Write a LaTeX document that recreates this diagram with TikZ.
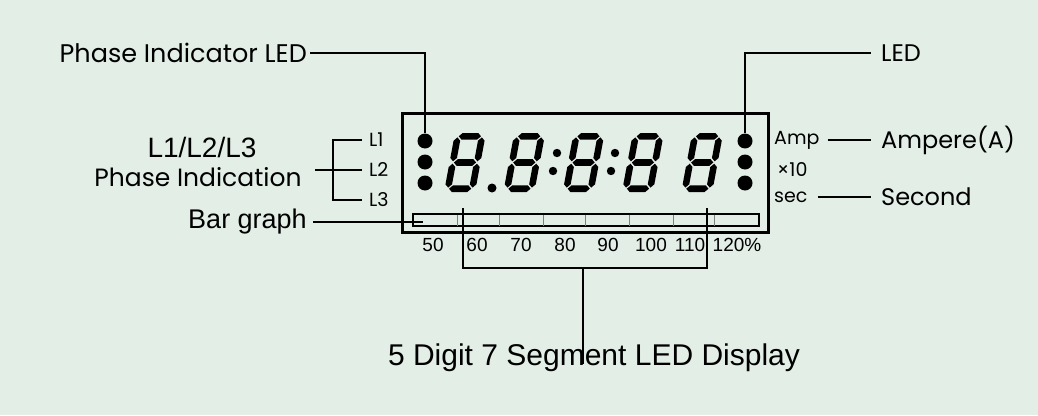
\documentclass[tikz,border=0pt]{standalone}
\usepackage{fontspec}
\setmainfont{Poppins}
\newfontfamily\helv{Liberation Sans}
\usetikzlibrary{positioning}
\definecolor{mint}{RGB}{226,238,230}

% one segment of a digit, lying or standing
\newcommand{\segh}[3]{\fill (#1,#3) -- (#1+3.3,#3-3.3) -- (#2-3.3,#3-3.3) -- (#2,#3) -- (#2-3.3,#3+3.3) -- (#1+3.3,#3+3.3) -- cycle;}
\newcommand{\segv}[3]{\fill (#1,#2) -- (#1+3.3,#2+3.3) -- (#1+3.3,#3-3.3) -- (#1,#3) -- (#1-3.3,#3-3.3) -- (#1-3.3,#2+3.3) -- cycle;}
\newcommand{\segdigit}[2]{%
  \begin{scope}[shift={(#1+11,#2)}, xslant=0.186]
    \segh{4.4}{26.6}{3.3} \segh{4.4}{26.6}{29.5} \segh{4.4}{26.6}{55.7}
    \segv{3.3}{4.4}{28.3} \segv{3.3}{30.7}{54.6}
    \segv{27.7}{4.4}{28.3} \segv{27.7}{30.7}{54.6}
  \end{scope}}

\tikzset{
  lbl/.style={inner sep=0pt, font=\fontsize{24}{28}\selectfont},
  tag/.style={inner sep=0pt, font=\fontsize{19}{22}\selectfont},
  num/.style={inner sep=0pt, font=\helv\fontsize{19}{22}\selectfont},
  lead/.style={line width=1.3pt},
  led/.style={circle, fill, inner sep=0pt, minimum size=15pt},
}

\begin{document}
\begin{tikzpicture}[x=1pt,y=-1pt]

\fill[mint] (0,0) rectangle (1038,415);
\useasboundingbox (0,0) rectangle (1038,415);

% display
\draw[line width=3pt] (402,113) rectangle (768,232);
\foreach \i in {0,...,4}{
  \pgfmathsetmacro\bx{444+59.3*\i}
  \segdigit{\bx}{133}
}
\fill (492,188) circle (4.5);
\foreach \cx in {557,615}{
  \fill (\cx,153) circle (4.2);
  \fill (\cx-4,171) circle (4.2);
}
\node[led] (ledL1) at (425,141) {};
\node[led] (ledL2) at (425,162) {};
\node[led] (ledL3) at (425,183) {};
\node[led] (ledR1) at (745,141) {};
\node[led] (ledR2) at (745,162) {};
\node[led] (ledR3) at (745,183) {};

% bar graph
\node[draw, line width=1.3pt, minimum width=346, minimum height=12, inner sep=0pt] (bar) at (586,220) {};
\foreach \dx in {457,499,543,585,629,673,714}
  \draw[gray, line width=0.8pt] (\dx,214.5) -- (\dx,225.5);
\foreach \v/\px in {50/433,60/477,70/521,80/565,90/608,100/651,110/690}
  \node[num] (n\v) at (\px,245) {\v};
\node[num] (n120) at (737,245) {120\%};

% labels
\node[lbl, anchor=east, font=\fontsize{25.5}{28}\selectfont] (pil) at (307,53) {Phase Indicator LED};
\node[lbl, anchor=west] (led) at (881,53) {LED};
\node[lbl, font=\helv\fontsize{28}{30}\selectfont] (phl) at (202,147) {L1/L2/L3};
\node[lbl, font=\fontsize{25}{28}\selectfont] (phind) at (198,177) {Phase Indication};
\node[lbl, anchor=east, font=\helv\fontsize{27}{30}\selectfont] (bargr) at (307,222) {Bar graph};
\node[tag, anchor=west] (lone) at (369,140) {L1};
\node[tag, anchor=west] (ltwo) at (369,170) {L2};
\node[tag, anchor=west] (lthree) at (369,200) {L3};
\node[tag, anchor=west] (amp) at (774,140) {Amp};
\node[tag, anchor=west] (xten) at (777,170) {×10};
\node[tag, anchor=west] (sec) at (774,197) {sec};
\node[lbl, anchor=west] (ampere) at (881,140) {Ampere(A)};
\node[lbl, anchor=west] (second) at (881,197) {Second};
\node[inner sep=0pt, font=\helv\fontsize{30}{32}\selectfont] (title) at (594,358) {5 Digit 7 Segment LED Display};

% leaders
\draw[lead] ([xshift=3]pil.east) -| (ledL1.north);
\draw[lead] ([xshift=-10]led.west) -| (ledR1.north);
\coordinate (brk) at (333,140);
\draw[lead] ([xshift=-7]lone.west) -| (brk) |- ([xshift=-7]lthree.west);
\draw[lead] ([xshift=-7]ltwo.west) -- ([xshift=13]phind.east |- ltwo.west);
\draw[lead] ([xshift=8]amp.east) -- ([xshift=-10]ampere.west);
\draw[lead] ([xshift=10]sec.east) -- ([xshift=-10]second.west);
\coordinate (barin) at (423,222);
\draw[lead] ([xshift=6]bargr.east) -- (barin);
\coordinate (dl) at (463,208);
\coordinate (dr) at (707,208);
\coordinate (stem) at (583,268);
\draw[lead] (dl) -- (dl |- stem) -- (dr |- stem) -- (dr);
\draw[lead] (stem) -- ([yshift=-20]title.north -| stem);

\end{tikzpicture}
\end{document}
